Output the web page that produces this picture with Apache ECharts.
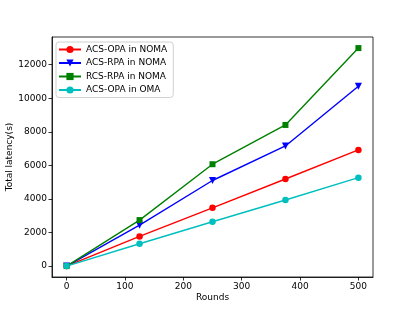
<!DOCTYPE html>
<html><head><meta charset="utf-8">
<script src="https://cdn.jsdelivr.net/npm/echarts@6/dist/echarts.min.js"></script>
<style>html,body{margin:0;padding:0;background:#fff}#c{width:415px;height:311px}</style>
</head><body><div id="c"></div>
<script>
var rounds = [0, 125, 250, 375, 500];
var acsOpaNoma = [0, 1770, 3470, 5190, 6920];
var acsRpaNoma = [0, 2440, 5100, 7160, 10720];
var rcsRpaNoma = [0, 2740, 6070, 8410, 12990];
var acsOpaOma = [0, 1330, 2640, 3940, 5270];
var xTicks = [0, 100, 200, 300, 400, 500];
var yTicks = [0, 2000, 4000, 6000, 8000, 10000, 12000];
var names = ['ACS-OPA in NOMA', 'ACS-RPA in NOMA', 'RCS-RPA in NOMA', 'ACS-OPA in OMA'];

function pairs(v){ return rounds.map(function(x,i){ return [x, v[i]]; }); }
var font = 'DejaVu Sans';
function mk(name, data, color, symbol, rot){
  return { name: name, type: 'line', data: pairs(data), symbol: symbol, symbolSize: symbol==='rect'?6:(symbol==='triangle'?7:6.5),
    symbolRotate: rot||0, showSymbol: true, lineStyle: {color: color, width: 1.4}, itemStyle: {color: color}, animation: false };
}
var chart = echarts.init(document.getElementById('c'), null, {renderer: 'canvas'});
chart.setOption({
  backgroundColor: '#fff',
  animation: false,
  grid: {left: 52, right: 42, top: 37, bottom: 34, show: true, borderColor: '#000', borderWidth: 0.8, backgroundColor: 'transparent',
    containLabel: false, outerBoundsMode: 'none'},
  legend: {orient: 'vertical', left: 56, top: 42, itemWidth: 22, itemHeight: 9, itemGap: 4.5,
    padding: [3, 6, 3, 2], borderColor: '#d0d0d0', borderWidth: 1, borderRadius: 3,
    textStyle: {fontFamily: font, fontSize: 9, color: '#000'}, data: names},
  xAxis: {type: 'value', min: -25, max: 525,
    name: 'Rounds', nameLocation: 'middle', nameGap: 16, nameMoveOverlap: false, nameTextStyle: {fontFamily: font, fontSize: 9, color: '#000'},
    axisLine: {show: true, onZero: false, lineStyle: {color: '#000', width: 0.8}}, splitLine: {show: false},
    axisTick: {show: true, inside: false, length: 3.5, lineStyle: {color: '#000', width: 0.8}, customValues: xTicks},
    axisLabel: {fontFamily: font, fontSize: 9, color: '#000', margin: 5, customValues: xTicks, formatter: function(v){return String(v);}}},
  yAxis: {type: 'value', min: -650, max: 13650,
    name: 'Total latency(s)', nameLocation: 'middle', nameGap: 38, nameMoveOverlap: false, nameTextStyle: {fontFamily: font, fontSize: 9, color: '#000'},
    axisLine: {show: true, onZero: false, lineStyle: {color: '#000', width: 0.8}}, splitLine: {show: false},
    axisTick: {show: true, inside: false, length: 3.5, lineStyle: {color: '#000', width: 0.8}, customValues: yTicks},
    axisLabel: {fontFamily: font, fontSize: 9, color: '#000', margin: 5, customValues: yTicks, formatter: function(v){return String(v);}}},
  series: [
    mk(names[0], acsOpaNoma, '#ff0000', 'circle'),
    mk(names[1], acsRpaNoma, '#0000ff', 'triangle', 180),
    mk(names[2], rcsRpaNoma, '#008000', 'rect'),
    mk(names[3], acsOpaOma, '#00bfbf', 'circle')
  ]
});
</script></body></html>
